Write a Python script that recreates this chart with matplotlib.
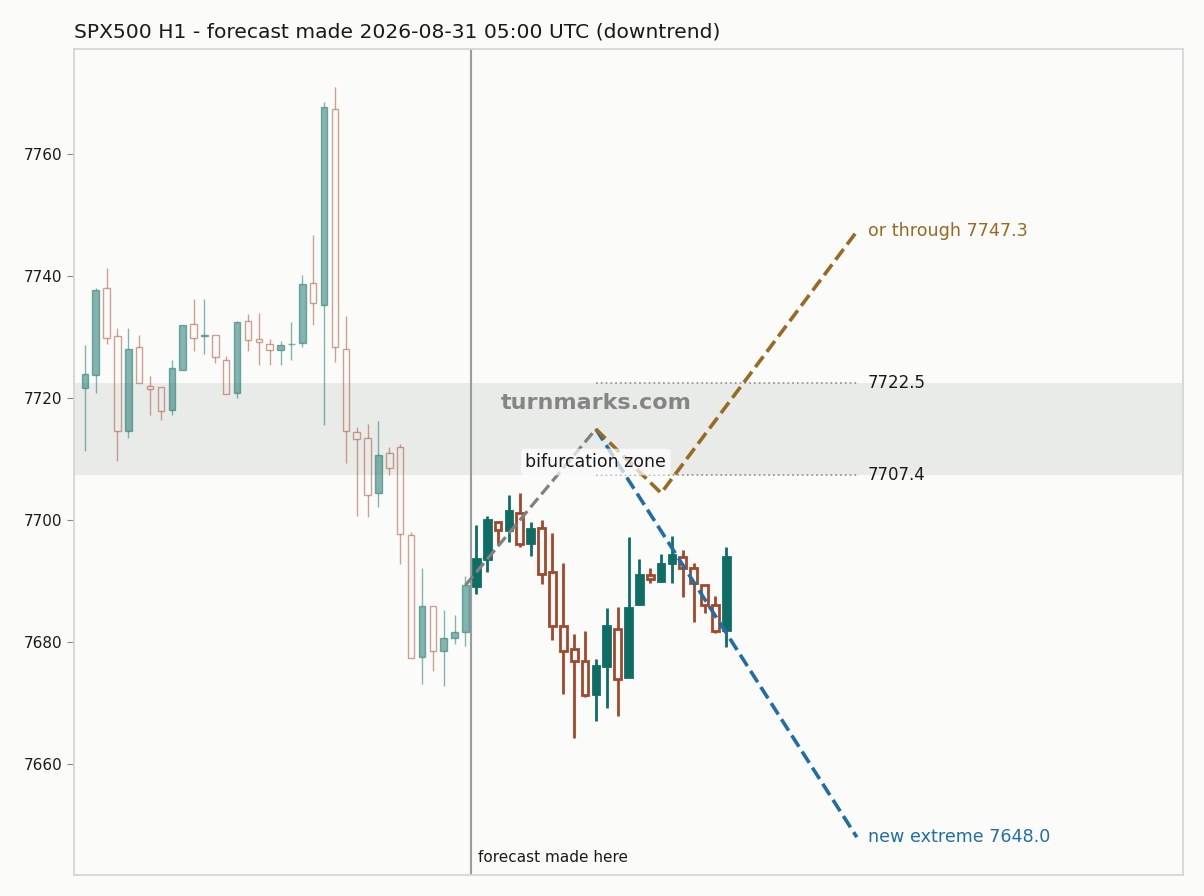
import matplotlib
matplotlib.use("Agg")
import matplotlib.pyplot as plt
import numpy as np

# ---- data ----
opens = [7721.6, 7723.8, 7738.0, 7730.1, 7714.5, 7728.3, 7721.9, 7721.8, 7718.1, 7724.5,
         7732.2, 7730.1, 7730.4, 7726.3, 7720.8, 7732.6, 7729.6, 7728.8, 7727.8, 7728.8,
         7729.0, 7738.8, 7735.2, 7767.3, 7728.1, 7714.4, 7713.5, 7704.4, 7710.9, 7712.0,
         7697.5, 7677.5, 7685.9, 7678.6, 7680.7, 7681.7,
         7689.1, 7693.6, 7699.7, 7698.4, 7701.2, 7696.2, 7698.7, 7691.4, 7682.6, 7678.9,
         7676.8, 7671.4, 7676.1, 7682.1, 7674.3, 7686.3, 7691.0, 7690.0, 7692.9, 7694.0,
         7692.2, 7689.4, 7686.1, 7681.9]
highs = [7728.6, 7738.0, 7741.3, 7731.5, 7731.5, 7730.4, 7723.6, 7721.8, 7726.3, 7732.0,
         7736.3, 7736.3, 7730.4, 7726.8, 7732.6, 7733.7, 7734.0, 7729.6, 7729.4, 7732.4,
         7740.1, 7746.7, 7768.5, 7770.9, 7733.5, 7715.3, 7715.8, 7716.3, 7712.0, 7712.4,
         7698.1, 7692.1, 7685.9, 7685.3, 7684.5, 7690.8,
         7699.2, 7700.7, 7699.7, 7704.1, 7704.5, 7699.6, 7700.0, 7697.8, 7692.9, 7681.3,
         7681.8, 7677.2, 7685.6, 7685.7, 7697.2, 7693.6, 7692.1, 7694.5, 7697.4, 7695.1,
         7692.9, 7689.4, 7687.5, 7695.6]
lows = [7711.3, 7720.8, 7728.8, 7709.7, 7713.4, 7722.4, 7717.2, 7716.4, 7717.2, 7724.5,
        7727.7, 7727.2, 7725.7, 7720.6, 7720.0, 7727.7, 7725.4, 7725.4, 7725.4, 7726.2,
        7728.3, 7731.9, 7715.6, 7725.9, 7709.4, 7700.6, 7700.5, 7702.1, 7707.3, 7692.7,
        7677.4, 7673.1, 7675.2, 7672.8, 7679.7, 7679.3,
        7687.9, 7691.4, 7695.9, 7696.4, 7695.6, 7694.1, 7689.5, 7680.4, 7671.4, 7664.2,
        7670.9, 7667.1, 7669.1, 7667.8, 7674.2, 7686.1, 7689.6, 7689.9, 7689.7, 7687.3,
        7683.2, 7684.7, 7681.4, 7679.2]
closes = [7724.0, 7737.7, 7729.8, 7714.5, 7728.1, 7722.4, 7721.4, 7717.8, 7724.9, 7731.9,
          7729.8, 7730.4, 7726.7, 7720.6, 7732.4, 7729.5, 7729.1, 7727.8, 7728.6, 7728.8,
          7738.6, 7735.5, 7767.7, 7728.3, 7714.6, 7713.3, 7704.1, 7710.6, 7708.5, 7697.7,
          7677.4, 7685.9, 7678.6, 7680.6, 7681.6, 7689.3,
          7693.6, 7700.0, 7698.4, 7701.4, 7696.0, 7698.5, 7691.1, 7682.6, 7678.5, 7676.9,
          7671.3, 7676.1, 7682.6, 7673.9, 7685.6, 7691.0, 7690.3, 7692.8, 7694.3, 7692.2,
          7689.7, 7686.1, 7681.8, 7694.0]
n_history = 36            # candles before the forecast
forecast_x = 35.5

lead_x = [35, 47]
lead_y = [7689.3, 7714.9]
down_x = [47, 71]
down_y = [7714.9, 7648.0]
alt_x = [47, 53, 71]
alt_y = [7714.9, 7704.4, 7747.3]
zone_hi = 7722.5
zone_lo = 7707.4
title = "SPX500 H1 - forecast made 2026-08-31 05:00 UTC (downtrend)"

# ---- style ----
BG = "#fbfbf9"
GREEN = "#0e6e66"
RED = "#a3472a"
BLUE = "#1f6ea8"
BROWN = "#9a6a22"

fig = plt.figure(figsize=(12.04, 8.96), dpi=100, facecolor=BG)
ax = fig.add_axes([74/1204, 1-875/896, (1183-74)/1204, (875-49)/896])
ax.set_facecolor(BG)

o = np.array(opens); h = np.array(highs); l = np.array(lows); c = np.array(closes)
x = np.arange(len(o))
top = np.maximum(o, c); bot = np.minimum(o, c)
up = c >= o

for hist, alpha, lw_w, lw_e, W in [(True, 0.5, 1.0, 1.0, 0.6), (False, 1.0, 2.0, 2.0, 0.62)]:
    sel = (x < n_history) if hist else (x >= n_history)
    g = sel & up
    r = sel & ~up
    # wicks (split so hollow bodies stay empty)
    for mask, col in [(g, GREEN), (r, RED)]:
        ax.vlines(x[mask], top[mask], h[mask], color=col, lw=lw_w, alpha=alpha, zorder=2)
        ax.vlines(x[mask], l[mask], bot[mask], color=col, lw=lw_w, alpha=alpha, zorder=2)
    ax.bar(x[g], top[g] - bot[g], bottom=bot[g], width=W, color=GREEN, edgecolor=GREEN,
           linewidth=lw_e, alpha=alpha, zorder=3)
    ax.bar(x[r], top[r] - bot[r], bottom=bot[r], width=W, facecolor="none", edgecolor=RED,
           linewidth=lw_e, alpha=alpha, zorder=3)

# zone band
ax.axhspan(zone_lo, zone_hi, color="#e3e6e3", alpha=0.75, zorder=0, lw=0)
ax.hlines([zone_hi, zone_lo], down_x[0], down_x[1], colors="#999999", linestyles=":", lw=1.3, zorder=4)

# forecast line
ax.axvline(forecast_x, color="#9a9d9b", lw=1.5, zorder=1)
ax.text(forecast_x + 0.7, 0.012, "forecast made here", transform=ax.get_xaxis_transform(),
        ha="left", va="bottom", fontsize=11, color="#1a1a1a")

# projections
ax.plot(lead_x, lead_y, color="#808080", ls="--", lw=2.3, zorder=5)
ax.plot(down_x, down_y, color=BLUE, ls="--", lw=2.6, zorder=5)
ax.plot(alt_x, alt_y, color=BROWN, ls="--", lw=2.6, zorder=5)

ax.text(72, alt_y[-1], f"or through {alt_y[-1]:.1f}", color=BROWN, fontsize=12.6, va="center", ha="left")
ax.text(72, down_y[-1], f"new extreme {down_y[-1]:.1f}", color=BLUE, fontsize=12.6, va="center", ha="left")
ax.text(72, zone_hi, f"{zone_hi:.1f}", color="#1a1a1a", fontsize=12, va="center", ha="left")
ax.text(72, zone_lo, f"{zone_lo:.1f}", color="#1a1a1a", fontsize=12, va="center", ha="left")

ax.text(47, 7719.2, "turnmarks.com", color="#808080", fontsize=16, fontweight="bold",
        ha="center", va="center", zorder=6, alpha=0.95)
ax.text(47, 7709.5, "bifurcation zone", color="#1a1a1a", fontsize=12.5, ha="center", va="center",
        zorder=7, bbox=dict(boxstyle="round,pad=0.25", fc="white", ec="none", alpha=0.7))

ax.set_xlim(-1, 101)
ax.set_ylim(7641.8, 7777.2)
ax.set_xticks([])
ax.set_yticks([7660, 7680, 7700, 7720, 7740, 7760])
ax.tick_params(axis="y", labelsize=11, length=5, color="#888888", labelcolor="#1a1a1a")
for s in ax.spines.values():
    s.set_color("#d3d7d5")
    s.set_linewidth(1.3)

ax.set_title(title, loc="left", fontsize=14.6, color="#1a1a1a", pad=8)

fig.savefig("out.png", dpi=100, facecolor=BG)
